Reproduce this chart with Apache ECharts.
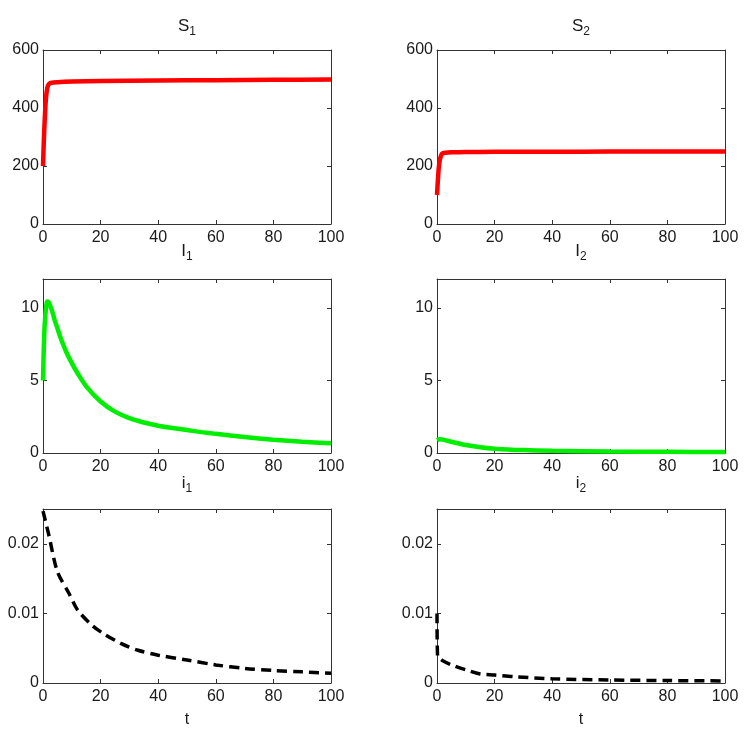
<!DOCTYPE html>
<html>
<head>
<meta charset="utf-8">
<script src="https://cdn.jsdelivr.net/npm/echarts@6/dist/echarts.min.js"></script>
<style>
  html, body { margin: 0; padding: 0; background: #fff; }
  #main { width: 750px; height: 743px; }
</style>
</head>
<body>
<div id="main"></div>
<script>
// S1 / S2 (susceptible)
var tS1 = [0, 0.3, 0.6, 1, 1.5, 2, 3, 5, 10, 20, 40, 60, 80, 100]
var S1 = [200, 290, 360, 430, 470, 482, 487, 489, 491, 493, 495, 496, 497, 498]
var tS2 = [0, 0.3, 0.6, 1, 1.5, 2, 3, 5, 10, 20, 40, 60, 80, 100]
var S2 = [100, 150, 192, 222, 238, 244, 246, 247, 248, 249, 249, 250, 250, 250]

// I1 / I2 (infected)
var tI1 = [0, 0.3, 0.6, 1, 1.5, 2, 3, 4, 5, 6, 8, 10, 12, 15, 20, 25, 30, 35, 40, 45, 50, 55, 60, 70, 80, 90, 100]
var I1 = [5.0, 7.4, 8.9, 9.9, 10.45, 10.4, 9.9, 9.2, 8.6, 8.0, 7.0, 6.2, 5.5, 4.6, 3.55, 2.85, 2.4, 2.1, 1.88, 1.72, 1.58, 1.44, 1.32, 1.1, 0.92, 0.78, 0.67]
var tI2 = [0, 1, 2, 5, 10, 15, 20, 30, 40, 60, 80, 100]
var I2 = [0.88, 0.95, 0.92, 0.78, 0.55, 0.4, 0.3, 0.2, 0.15, 0.1, 0.08, 0.07]

// i1 / i2
var ti1 = [0, 2, 5, 9, 12, 17, 21, 27, 33, 40, 50, 60, 70, 80, 90, 100]
var i1 = [0.0247, 0.0213, 0.016, 0.0129, 0.0105, 0.0083, 0.0071, 0.0057, 0.0047, 0.004, 0.0033, 0.0026, 0.0021, 0.0018, 0.0016, 0.0014]
var ti2 = [0, 0.2, 1, 2, 5, 10, 15, 20, 27, 40, 60, 80, 100]
var i2 = [0.0100, 0.0038, 0.0035, 0.0032, 0.0026, 0.0019, 0.0013, 0.00115, 0.0009, 0.0006, 0.00043, 0.00035, 0.0003]

// y tick labels per row
var yTicksS = [0, 200, 400, 600]
var yTicksI = [0, 5, 10]
var yTicksi = [0, 0.01, 0.02]

var FONT = '"Liberation Sans", Arial, sans-serif'
var AXIS_COLOR = '#333'
var TEXT_COLOR = '#1a1a1a'

var panels = [
  {title: ['S', '1'], t: tS1, v: S1, yMax: 600, yTicks: yTicksS, color: '#ff0000', dash: false},
  {title: ['S', '2'], t: tS2, v: S2, yMax: 600, yTicks: yTicksS, color: '#ff0000', dash: false},
  {title: ['I', '1'], t: tI1, v: I1, yMax: 12, yTicks: yTicksI, color: '#00ee00', dash: false},
  {title: ['I', '2'], t: tI2, v: I2, yMax: 12, yTicks: yTicksI, color: '#00ee00', dash: false},
  {title: ['i', '1'], t: ti1, v: i1, yMax: 0.025, yTicks: yTicksi, color: '#000', dash: true},
  {title: ['i', '2'], t: ti2, v: i2, yMax: 0.025, yTicks: yTicksi, color: '#000', dash: true}
]

var colLeft = [43, 437]
var rowTop = [50, 279, 509]
var titleY = [28, 253, 485]
var gw = 288
var gh = 174

var grids = []
var xAxes = []
var yAxes = []
var series = []
var graphics = []

function pairs (t, v) {
  return t.map(function (x, i) { return [x, v[i]] })
}

function baseAxis (gi, extra) {
  var ax = {
    gridIndex: gi,
    type: 'value',
    axisLine: {show: true, onZero: false, lineStyle: {color: AXIS_COLOR, width: 1}},
    axisTick: {show: true, inside: true, length: 4, lineStyle: {color: AXIS_COLOR}},
    axisLabel: {show: false},
    splitLine: {show: false}
  }
  return Object.assign(ax, extra)
}

panels.forEach(function (p, k) {
  var row = Math.floor(k / 2)
  var col = k % 2
  grids.push({left: colLeft[col], top: rowTop[row], width: gw, height: gh, containLabel: false})

  var labelStyle = {show: true, fontSize: 16, color: TEXT_COLOR, fontFamily: FONT}
  // bottom x with labels
  var xb = baseAxis(k, {
    position: 'bottom', min: 0, max: 100, interval: 20,
    axisLabel: Object.assign({margin: 6}, labelStyle)
  })
  if (row === 2) {
    xb.name = 't'
    xb.nameLocation = 'middle'
    xb.nameGap = 29
    xb.nameTextStyle = {fontSize: 16, color: TEXT_COLOR, fontFamily: FONT}
  }
  xAxes.push(xb)
  // top x: ticks only
  xAxes.push(baseAxis(k, {position: 'top', min: 0, max: 100, interval: 20}))

  // left y with labels
  yAxes.push(baseAxis(k, {
    position: 'left', min: 0, max: p.yMax,
    axisLabel: Object.assign({margin: 4, customValues: p.yTicks}, labelStyle),
    axisTick: {show: true, inside: true, length: 4, lineStyle: {color: AXIS_COLOR}, customValues: p.yTicks}
  }))
  // right y: ticks only
  yAxes.push(baseAxis(k, {
    position: 'right', min: 0, max: p.yMax,
    axisTick: {show: true, inside: true, length: 4, lineStyle: {color: AXIS_COLOR}, customValues: p.yTicks}
  }))

  series.push({
    type: 'line',
    xAxisIndex: k * 2,
    yAxisIndex: k * 2,
    data: pairs(p.t, p.v),
    showSymbol: false,
    smooth: 0.3,
    clip: true,
    lineStyle: {
      color: p.color,
      width: p.dash ? 3.5 : 4.5,
      type: p.dash ? [10, 6] : 'solid'
    },
    silent: true
  })

  // title with subscript index
  graphics.push({
    type: 'text',
    x: colLeft[col] + gw / 2,
    y: titleY[row],
    style: {
      text: '{a|' + p.title[0] + '}{b|' + p.title[1] + '}',
      align: 'center',
      verticalAlign: 'middle',
      fill: TEXT_COLOR,
      rich: {
        a: {fontSize: 17, fontFamily: FONT, lineHeight: 17, verticalAlign: 'top', fill: TEXT_COLOR},
        b: {fontSize: 12, fontFamily: FONT, lineHeight: 20, verticalAlign: 'bottom', fill: TEXT_COLOR}
      }
    }
  })
})

var chart = echarts.init(document.getElementById('main'), null, {renderer: 'canvas'})
chart.setOption({
  animation: false,
  backgroundColor: '#fff',
  grid: grids,
  xAxis: xAxes,
  yAxis: yAxes,
  series: series,
  graphic: graphics
})
</script>
</body>
</html>
